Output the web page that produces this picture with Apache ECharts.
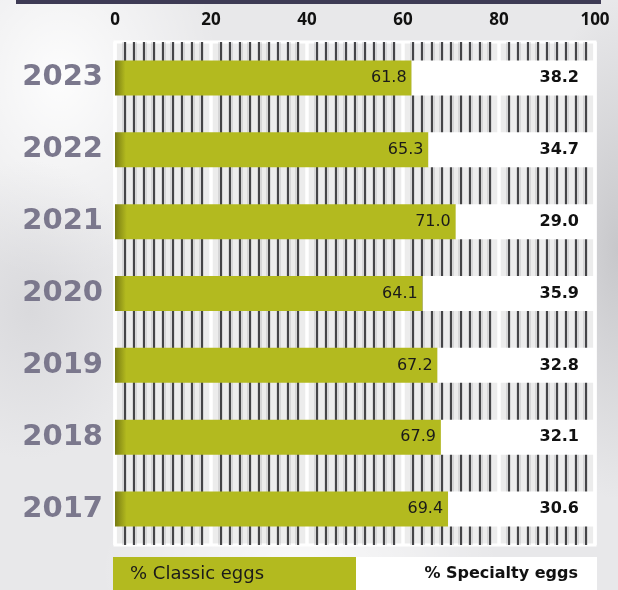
<!DOCTYPE html>
<html>
<head>
<meta charset="utf-8">
<script src="https://cdn.jsdelivr.net/npm/echarts@6/dist/echarts.min.js"></script>
<style>
html,body{margin:0;padding:0;}
body{width:618px;height:590px;overflow:hidden;
background:
 radial-gradient(ellipse 110px 150px at 30px 310px, rgba(190,190,195,0.35), rgba(190,190,195,0) 100%),
 radial-gradient(ellipse 160px 200px at 60px 80px, rgba(255,255,255,0.9), rgba(255,255,255,0) 100%),
 radial-gradient(ellipse 90px 250px at 618px 250px, rgba(150,150,155,0.4), rgba(150,150,155,0) 100%),
 radial-gradient(ellipse 200px 120px at 300px 570px, rgba(255,255,255,0.8), rgba(255,255,255,0) 100%),
 #e8e8ea;}
#chart{width:618px;height:590px;}
</style>
</head>
<body>
<div id="chart"></div>
<script>
const years = ['2023', '2022', '2021', '2020', '2019', '2018', '2017'];
const classicEggs = [61.8, 65.3, 71.0, 64.1, 67.2, 67.9, 69.4];
const specialtyEggs = [38.2, 34.7, 29.0, 35.9, 32.8, 32.1, 30.6];
const seriesNames = ['% Classic eggs', '% Specialty eggs'];
const axisMin = 0, axisMax = 100, axisStep = 20;

const OLIVE = '#b3ba1f';
const chart = echarts.init(document.getElementById('chart'), null, {renderer: 'canvas'});

chart.setOption({
  backgroundColor: 'transparent',
  animation: false,
  grid: {
    left: 115, right: 23, top: 42, bottom: 45,
    show: true, backgroundColor: '#ececec', borderColor: '#ffffff', borderWidth: 3, z: 0
  },
  xAxis: [
    {
      type: 'value', min: axisMin, max: axisMax, interval: axisStep, position: 'top', z: 1,
      axisLine: {show: false}, axisTick: {show: false},
      axisLabel: {margin: 13, color: '#111', fontFamily: 'Noto Sans', fontWeight: 'bold', fontSize: 17},
      splitLine: {show: true, lineStyle: {color: '#ffffff', width: 3.5}},
      minorTick: {show: false, splitNumber: 10},
      minorSplitLine: {show: true, lineStyle: {color: '#2b2b2e', width: 1.7}}
    },
    {
      type: 'value', min: axisMin, max: axisMax, interval: axisStep, position: 'top', z: 0,
      axisLine: {show: false}, axisTick: {show: false}, axisLabel: {show: false},
      splitLine: {show: false},
      minorTick: {show: false, splitNumber: 10},
      minorSplitLine: {show: true, lineStyle: {color: 'rgba(130,130,135,0.2)', width: 5}}
    }
  ],
  yAxis: {
    type: 'category', data: years, inverse: true,
    axisLine: {show: false}, axisTick: {show: false}, splitLine: {show: false},
    axisLabel: {margin: 12, color: '#7b788d', fontFamily: 'DejaVu Sans', fontWeight: 'bold', fontSize: 29}
  },
  series: [
    {
      name: seriesNames[0], type: 'bar', stack: 'total', data: classicEggs, barWidth: 35, xAxisIndex: 0,
      itemStyle: {color: new echarts.graphic.LinearGradient(0, 0, 1, 0, [
        {offset: 0, color: '#777b12'}, {offset: 0.035, color: OLIVE}, {offset: 1, color: OLIVE}])},
      label: {show: true, position: 'insideRight', distance: 5, color: '#1a1a1a',
        fontFamily: 'DejaVu Sans', fontSize: 16, formatter: p => p.value.toFixed(1)}
    },
    {
      name: seriesNames[1], type: 'bar', stack: 'total', data: specialtyEggs, barWidth: 35, xAxisIndex: 0,
      itemStyle: {color: '#ffffff'},
      label: {show: true, position: 'insideRight', distance: 16, color: '#111',
        fontFamily: 'DejaVu Sans', fontWeight: 'bold', fontSize: 16, formatter: p => p.value.toFixed(1)}
    }
  ],
  graphic: [
    {type: 'rect', left: 16, top: 0, shape: {width: 585, height: 4}, style: {fill: '#3e3b55'}},
    {type: 'rect', left: 113, top: 557, shape: {width: 243, height: 34}, style: {fill: OLIVE}},
    {type: 'rect', left: 356, top: 557, shape: {width: 241, height: 34}, style: {fill: '#ffffff'}},
    {type: 'text', left: 130, top: 565, style: {text: seriesNames[0], fill: '#1a1a1a', font: '18px "DejaVu Sans"'}},
    {type: 'text', right: 40, top: 566, style: {text: seriesNames[1], fill: '#111', font: 'bold 16px "DejaVu Sans"'}}
  ]
});
</script>
</body>
</html>
